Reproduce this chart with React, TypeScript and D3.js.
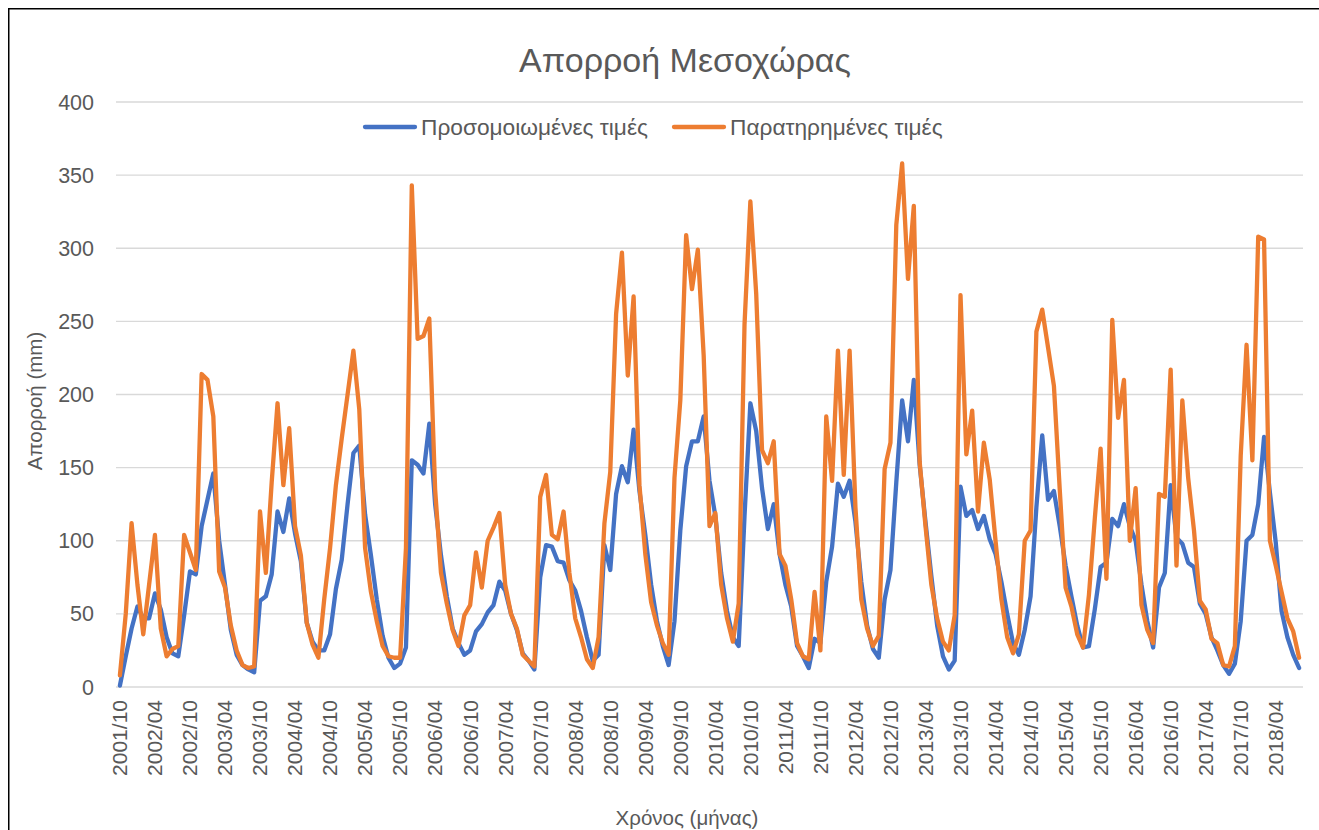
// @ts-nocheck
import React, { useRef, useEffect } from 'react';
import * as d3 from 'd3';

// months from 2001/10 to 2018/08
const startYear = 2001;
const startMonth = 10;
const monthCount = 203;
const months = [];
for (let k = 0; k < monthCount; k++) {
    const m = (startMonth - 1 + k) % 12 + 1;
    const y = startYear + Math.floor((startMonth - 1 + k) / 12);
    months.push(y + "/" + (m < 10 ? "0" + m : m));
}

// Προσομοιωμένες τιμές (mm), one row per hydrological year
const simulated = [
    1, 21, 40, 55, 47, 47, 64, 53, 34, 23, 21, 49,
    79, 77, 110, 128, 146, 100, 70, 39, 22, 15, 12, 10,
    59, 62, 77, 120, 106, 129, 105, 86, 44, 31, 25, 25,
    36, 67, 87, 125, 160, 165, 118, 90, 60, 35, 20, 13,
    16, 27, 155, 152, 146, 180, 125, 90, 62, 40, 30, 22,
    25, 38, 43, 51, 56, 72, 66, 50, 39, 23, 18, 12,
    75, 97, 96, 86, 85, 73, 66, 52, 34, 18, 22, 97,
    80, 132, 151, 140, 176, 134, 104, 70, 45, 28, 15, 45,
    107, 151, 168, 168, 185, 141, 117, 78, 52, 34, 28, 117,
    194, 175, 136, 108, 125, 91, 70, 55, 28, 21, 13, 33,
    30, 72, 96, 139, 130, 141, 113, 72, 42, 26, 20, 60,
    80, 140, 196, 168, 210, 152, 113, 76, 42, 21, 12, 18,
    137, 117, 121, 108, 117, 101, 91, 72, 50, 30, 22, 39,
    62, 123, 172, 128, 134, 110, 83, 62, 42, 27, 28, 53,
    82, 85, 115, 110, 125, 110, 100, 70, 45, 27, 68, 78,
    138, 102, 98, 85, 82, 57, 50, 34, 25, 15, 9, 16,
    45, 100, 104, 125, 171, 133, 99, 52, 34, 22, 13
];

// Παρατηρημένες τιμές (mm)
const observed = [
    8, 50, 112, 70, 36, 70, 104, 40, 21, 26, 28, 104,
    92, 80, 214, 210, 185, 79, 68, 42, 25, 15, 13, 14,
    120, 78, 140, 194, 138, 177, 110, 90, 44, 29, 20, 60,
    95, 138, 170, 200, 230, 190, 95, 65, 45, 28, 21, 20,
    20, 95, 343, 238, 240, 252, 135, 78, 57, 39, 28, 49,
    56, 92, 68, 100, 109, 119, 70, 50, 40, 22, 18, 14,
    130, 145, 104, 101, 120, 78, 47, 34, 19, 13, 34, 112,
    147, 255, 297, 213, 267, 138, 91, 58, 42, 30, 22, 143,
    196, 309, 272, 299, 227, 110, 119, 70, 47, 31, 57, 248,
    332, 269, 162, 153, 168, 91, 83, 60, 30, 21, 19, 65,
    25, 185, 141, 230, 145, 230, 123, 60, 40, 28, 35, 149,
    167, 316, 358, 279, 329, 154, 110, 70, 47, 31, 25, 49,
    268, 159, 189, 120, 167, 142, 100, 60, 34, 23, 36, 100,
    107, 243, 258, 232, 206, 135, 68, 55, 36, 27, 63, 115,
    163, 74, 251, 184, 210, 100, 136, 56, 39, 30, 132, 130,
    217, 83, 196, 143, 107, 59, 53, 33, 30, 15, 14, 28,
    158, 234, 155, 308, 306, 100, 83, 65, 47, 38, 20
];

const yTicks = [0, 50, 100, 150, 200, 250, 300, 350, 400];
const seriesNames = ["Προσομοιωμένες τιμές", "Παρατηρημένες τιμές"];
const seriesColors = ["#4472C4", "#ED7D31"];

const Chart = function () {
    var svgRef = useRef(null);
    useEffect(function () {
        var W = 1311, H = 822;
        var font = "'Liberation Sans', Arial, sans-serif";
        var grey = "#595959";
        var svg = d3.select(svgRef.current)
            .attr('width', W)
            .attr('height', H);
        svg.selectAll('*').remove();

        svg.append('rect')
            .attr('x', 0.75).attr('y', 0.75)
            .attr('width', W + 50).attr('height', H + 50)
            .attr('fill', 'white')
            .attr('stroke', 'black')
            .attr('stroke-width', 1.5);

        var xScale = d3.scalePoint()
            .domain(months)
            .range([109, 1294])
            .padding(0.5);
        var yScale = d3.scaleLinear()
            .domain([0, 400])
            .range([679, 94]);

        // gridlines
        svg.append('g').selectAll('line')
            .data(yTicks).enter().append('line')
            .attr('x1', 108).attr('x2', 1295)
            .attr('y1', function (d) { return yScale(d); })
            .attr('y2', function (d) { return yScale(d); })
            .attr('stroke', '#d9d9d9')
            .attr('stroke-width', 1.3);

        // y labels
        svg.append('g').selectAll('text')
            .data(yTicks).enter().append('text')
            .attr('x', 86)
            .attr('y', function (d) { return yScale(d); })
            .attr('dy', '0.35em')
            .attr('text-anchor', 'end')
            .attr('font-family', font)
            .attr('font-size', 21.5)
            .attr('fill', grey)
            .text(function (d) { return d; });

        // x labels every 6 months
        var shown = months.filter(function (d, i) { return i % 6 === 0; });
        svg.append('g').selectAll('text')
            .data(shown).enter().append('text')
            .attr('transform', function (d) { return "translate(" + xScale(d) + ",692) rotate(-90)"; })
            .attr('dy', '0.35em')
            .attr('text-anchor', 'end')
            .attr('font-family', font)
            .attr('font-size', 21)
            .attr('fill', grey)
            .text(function (d) { return d; });

        // lines
        var line = d3.line()
            .x(function (d, i) { return xScale(months[i]); })
            .y(function (d) { return yScale(d); });
        [simulated, observed].forEach(function (s, k) {
            svg.append('path')
                .datum(s)
                .attr('fill', 'none')
                .attr('stroke', seriesColors[k])
                .attr('stroke-width', 4.3)
                .attr('stroke-linejoin', 'round')
                .attr('stroke-linecap', 'round')
                .attr('d', line);
        });

        // title
        svg.append('text')
            .attr('x', 677).attr('y', 64)
            .attr('text-anchor', 'middle')
            .attr('font-family', font)
            .attr('font-size', 34)
            .attr('fill', grey)
            .text("Απορροή Μεσοχώρας");

        // legend
        var legendX = [355, 664];
        seriesNames.forEach(function (name, k) {
            svg.append('line')
                .attr('x1', legendX[k] + 2).attr('x2', legendX[k] + 52)
                .attr('y1', 119).attr('y2', 119)
                .attr('stroke', seriesColors[k])
                .attr('stroke-width', 4.3)
                .attr('stroke-linecap', 'round');
            svg.append('text')
                .attr('x', legendX[k] + 58).attr('y', 119)
                .attr('dy', '0.35em')
                .attr('font-family', font)
                .attr('font-size', 22.7)
                .attr('fill', grey)
                .text(name);
        });

        // axis titles
        svg.append('text')
            .attr('transform', "translate(27,393) rotate(-90)")
            .attr('dy', '0.35em')
            .attr('text-anchor', 'middle')
            .attr('font-family', font)
            .attr('font-size', 20.5)
            .attr('fill', grey)
            .text("Απορροή (mm)");
        svg.append('text')
            .attr('x', 679).attr('y', 817)
            .attr('text-anchor', 'middle')
            .attr('font-family', font)
            .attr('font-size', 20.5)
            .attr('fill', grey)
            .text("Χρόνος (μήνας)");
    }, []);
    return (<svg ref={svgRef} style={{ position: 'fixed', left: 8, top: 8, display: 'block' }}></svg>);
};

export default function App() {
    return <Chart />;
}
